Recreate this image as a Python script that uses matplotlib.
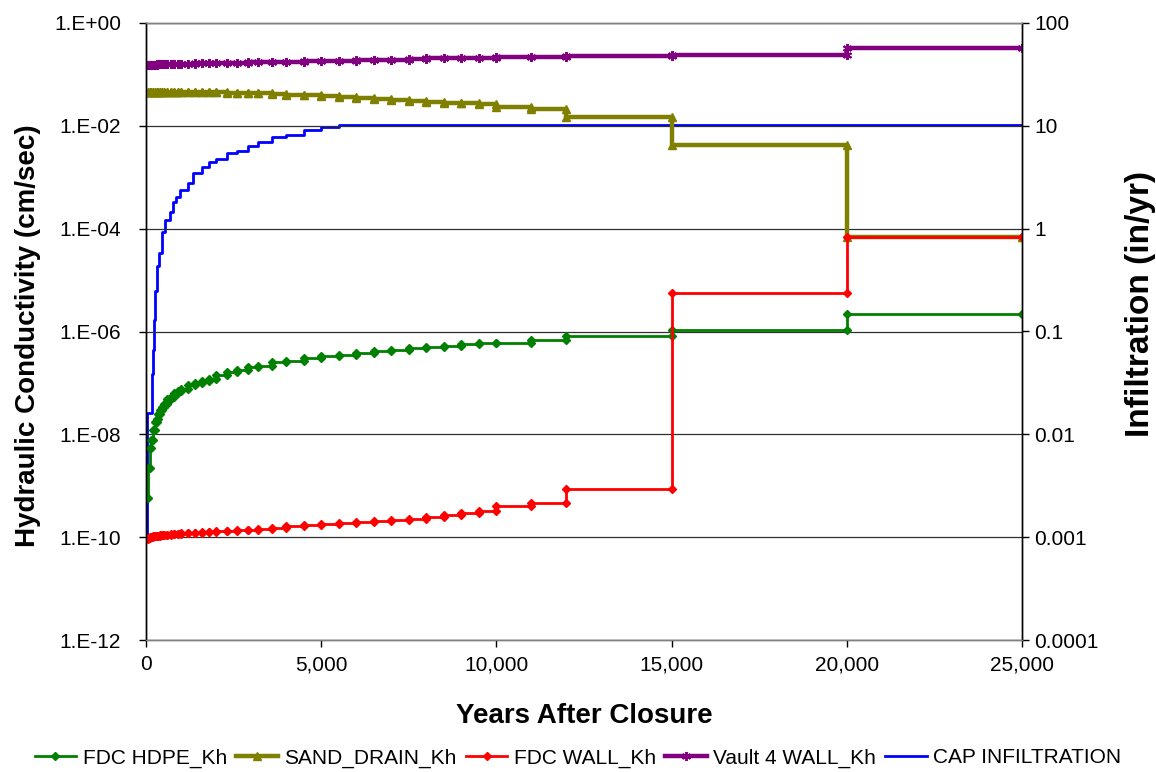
import numpy as np
import matplotlib
matplotlib.use('Agg')
import matplotlib.pyplot as plt
from matplotlib.ticker import FixedLocator, FuncFormatter, NullLocator

plt.rcParams['font.family'] = ['Liberation Sans', 'DejaVu Sans']

# ---------------- data ----------------
years = [0, 50, 100, 150, 200, 250, 300, 350, 400, 450, 500, 600, 700, 800, 900,
         1000, 1200, 1400, 1600, 1800, 2000, 2300, 2600, 2900, 3200, 3600, 4000,
         4500, 5000, 5500, 6000, 6500, 7000, 7500, 8000, 8500, 9000, 9500, 10000,
         11000, 12000, 15000, 20000, 25000]

fdc_hdpe_kh = [5.8e-10, 2.2e-9, 5.4e-9, 7.8e-9, 1.2e-8, 1.7e-8, 2.0e-8, 2.5e-8, 3.0e-8,
               3.4e-8, 3.9e-8, 4.8e-8, 5.4e-8, 6.3e-8, 7.1e-8, 7.6e-8, 9.1e-8, 1.0e-7,
               1.1e-7, 1.2e-7, 1.4e-7, 1.6e-7, 1.8e-7, 2.0e-7, 2.1e-7, 2.5e-7, 2.7e-7,
               3.0e-7, 3.3e-7, 3.5e-7, 3.8e-7, 4.1e-7, 4.3e-7, 4.7e-7, 4.9e-7, 5.2e-7,
               5.8e-7, 5.9e-7, 6.0e-7, 6.9e-7, 8.1e-7, 1.07e-6, 2.2e-6, 2.2e-6]

sand_drain_kh = [4.6e-2, 4.6e-2, 4.6e-2, 4.6e-2, 4.6e-2, 4.6e-2, 4.6e-2, 4.6e-2, 4.6e-2,
                 4.6e-2, 4.6e-2, 4.6e-2, 4.6e-2, 4.55e-2, 4.55e-2, 4.55e-2, 4.5e-2, 4.5e-2,
                 4.5e-2, 4.5e-2, 4.5e-2, 4.4e-2, 4.4e-2, 4.4e-2, 4.3e-2, 4.2e-2, 4.0e-2,
                 3.9e-2, 3.8e-2, 3.7e-2, 3.5e-2, 3.3e-2, 3.2e-2, 3.1e-2, 2.95e-2, 2.8e-2,
                 2.75e-2, 2.6e-2, 2.3e-2, 2.1e-2, 1.5e-2, 4.3e-3, 7.0e-5, 7.0e-5]

fdc_wall_kh = [9.3e-11, 9.8e-11, 1.0e-10, 1.02e-10, 1.05e-10, 1.05e-10, 1.07e-10, 1.07e-10,
               1.1e-10, 1.1e-10, 1.12e-10, 1.12e-10, 1.15e-10, 1.15e-10, 1.17e-10, 1.2e-10,
               1.2e-10, 1.23e-10, 1.26e-10, 1.26e-10, 1.29e-10, 1.32e-10, 1.35e-10, 1.38e-10,
               1.41e-10, 1.51e-10, 1.62e-10, 1.74e-10, 1.82e-10, 1.9e-10, 2.0e-10, 2.1e-10,
               2.2e-10, 2.3e-10, 2.5e-10, 2.75e-10, 3.0e-10, 3.2e-10, 4.1e-10, 4.6e-10,
               8.7e-10, 5.6e-6, 6.9e-5, 6.9e-5]

vault4_wall_kh = [0.150, 0.151, 0.152, 0.153, 0.154, 0.155, 0.156, 0.157, 0.158, 0.159,
                  0.160, 0.160, 0.161, 0.161, 0.162, 0.162, 0.163, 0.164, 0.164, 0.165,
                  0.166, 0.168, 0.170, 0.171, 0.172, 0.175, 0.178, 0.180, 0.182, 0.186,
                  0.190, 0.192, 0.195, 0.200, 0.204, 0.206, 0.209, 0.212, 0.216, 0.221,
                  0.226, 0.240, 0.320, 0.320]

cap_years = [0, 20, 40, 160, 190, 230, 260, 300, 380, 450, 540, 690, 780, 860, 970,
             1200, 1350, 1600, 1800, 2000, 2300, 2600, 2900, 3200, 3600, 4000, 4500,
             5000, 5500, 25000]
cap_infiltration = [0.001, 0.0025, 0.016, 0.039, 0.066, 0.13, 0.25, 0.43, 0.58, 0.93,
                    1.22, 1.46, 1.82, 2.04, 2.4, 2.8, 3.5, 4.0, 4.4, 4.8, 5.4, 5.75,
                    6.3, 6.9, 7.8, 8.1, 9.1, 9.8, 10.2, 10.2]

x_ticks = [0, 5000, 10000, 15000, 20000, 25000]
left_ticks = [1e0, 1e-2, 1e-4, 1e-6, 1e-8, 1e-10, 1e-12]
right_ticks = [100, 10, 1, 0.1, 0.01, 0.001, 0.0001]

series_names = ['FDC HDPE_Kh', 'SAND_DRAIN_Kh', 'FDC WALL_Kh', 'Vault 4 WALL_Kh',
                'CAP INFILTRATION']


def step_xy(t, v):
    xs = [t[0]]
    ys = [v[0]]
    for i in range(1, len(t)):
        xs += [t[i], t[i]]
        ys += [v[i - 1], v[i]]
    return xs, ys


W, H = 1156, 772
fig = plt.figure(figsize=(W / 100, H / 100), dpi=100)
ax = fig.add_axes([146 / W, 1 - 640 / H, (1022 - 146) / W, (640 - 23) / H])
ax2 = ax.twinx()

# CAP infiltration on the secondary axis (behind)
ax2.set_zorder(1)
ax.set_zorder(2)
ax.patch.set_visible(False)

l5, = ax2.step(cap_years, cap_infiltration, where='post', color='#0000FF', lw=2.0)

x, y = step_xy(years, fdc_hdpe_kh)
l1, = ax.plot(x, y, color='#008000', lw=2.0, marker='D', ms=4.5, mec='#008000')
x, y = step_xy(years, sand_drain_kh)
l2, = ax.plot(x, y, color='#808000', lw=3.2, marker='^', ms=5.5, mec='#808000')
x, y = step_xy(years, vault4_wall_kh)
l4, = ax.plot(x, y, color='#800080', lw=3.2, marker=(6, 2, 0), ms=6.5, mew=1.4,
              mec='#800080')
x, y = step_xy(years, fdc_wall_kh)
l3, = ax.plot(x, y, color='#FF0000', lw=2.0, marker='D', ms=4.5, mec='#FF0000')

ax.set_yscale('log')
ax2.set_yscale('log')
ax.set_xlim(0, 25000)
ax.set_ylim(1e-12, 1)
ax2.set_ylim(1e-4, 100)

ax.xaxis.set_major_locator(FixedLocator(x_ticks))
ax.xaxis.set_major_formatter(FuncFormatter(lambda v, p: '{:,.0f}'.format(v)))
ax.yaxis.set_major_locator(FixedLocator(left_ticks))
ax.yaxis.set_minor_locator(NullLocator())
ax.yaxis.set_major_formatter(FuncFormatter(lambda v, p: '1.E%+03d' % int(round(np.log10(v)))))
ax2.yaxis.set_major_locator(FixedLocator(right_ticks))
ax2.yaxis.set_minor_locator(NullLocator())
ax2.yaxis.set_major_formatter(FuncFormatter(lambda v, p: '%g' % v))

ax.grid(axis='y', which='major', color='#303030', lw=0.9)
ax.set_axisbelow(True)

ax.tick_params(axis='both', labelsize=15, length=5, width=1, colors='black')
ax.tick_params(axis='x', direction='out', pad=6)
ax.tick_params(axis='y', direction='out', pad=13)
ax2.tick_params(axis='y', labelsize=15, length=5, width=1, direction='out', pad=4)

for s in ['top', 'bottom']:
    ax.spines[s].set_color('#808080')
    ax2.spines[s].set_color('#808080')
ax.spines['left'].set_color('black')
ax2.spines['right'].set_color('black')
for s in ax.spines.values():
    s.set_linewidth(1.0)
for s in ax2.spines.values():
    s.set_linewidth(1.0)

fig.text(584 / W, 1 - 716 / H, 'Years After Closure', ha='center', va='center',
         fontsize=20, fontweight='bold')
fig.text(28 / W, 1 - 336 / H, 'Hydraulic Conductivity (cm/sec)', ha='center',
         va='center', rotation=90, fontsize=20, fontweight='bold')
fig.text(1141 / W, 1 - 304 / H, 'Infiltration (in/yr)', ha='center', va='center',
         rotation=90, fontsize=24, fontweight='bold')

fig.legend([l1, l2, l3, l4, l5], series_names, loc='center',
           bbox_to_anchor=(578 / W, 1 - 758 / H), ncol=5, frameon=False,
           fontsize=15, handlelength=2.0, handletextpad=0.3, columnspacing=0.45,
           numpoints=1, borderaxespad=0)

fig.savefig('out.png', dpi=100)
